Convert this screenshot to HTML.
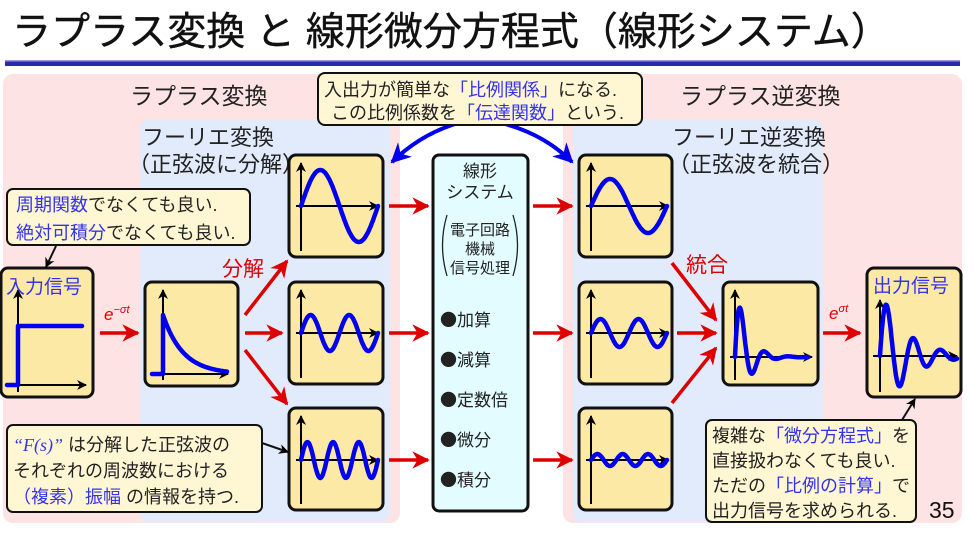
<!DOCTYPE html>
<html><head><meta charset="utf-8"><style>
html,body{margin:0;padding:0;background:#fff;}
svg{display:block;}
text{font-family:"Liberation Sans","Noto Sans CJK JP",sans-serif;}
.cj{font-family:"Noto Sans CJK JP",sans-serif;}
</style></head><body>
<svg id="s" width="976" height="536" viewBox="0 0 976 536" xmlns="http://www.w3.org/2000/svg">
<defs>
<marker id="ar" viewBox="0 0 10 10" refX="9" refY="5" markerWidth="5" markerHeight="5" orient="auto"><path d="M0,0 L10,5 L0,10 L3,5z" fill="#dd0000"/></marker>
<marker id="ab" viewBox="0 0 10 10" refX="9" refY="5" markerWidth="5" markerHeight="5" orient="auto"><path d="M0,0 L10,5 L0,10 L3,5z" fill="#0000ee"/></marker>
<marker id="ak" viewBox="0 0 10 10" refX="9" refY="5" markerWidth="5" markerHeight="5" orient="auto"><path d="M0,0 L10,5 L0,10 L3,5z" fill="#000"/></marker>
</defs>
<text x="12" y="45" font-size="39" fill="#111" stroke="#111" stroke-width="0.4">ラプラス変換 と 線形微分方程式（線形システム）</text>
<rect x="5" y="61" width="955" height="5" fill="#2a2aa8"/>
<rect x="5" y="60" width="955" height="1.5" fill="#9a9ae0"/>
<rect x="3" y="74" width="397" height="449" rx="10" fill="#fde3e3"/>
<rect x="563" y="74" width="399" height="449" rx="10" fill="#fde3e3"/>
<rect x="140" y="120" width="250" height="402" rx="8" fill="#e2ebfc"/>
<rect x="573" y="120" width="250" height="402" rx="8" fill="#e2ebfc"/>
<text x="130" y="104" font-size="23" fill="#222">ラプラス変換</text>
<text x="680" y="104" font-size="23" fill="#222">ラプラス逆変換</text>
<text x="142" y="145" font-size="22" fill="#222">フーリエ変換</text>
<text x="128" y="172" font-size="22" fill="#222">（正弦波に分解）</text>
<text x="672" y="145" font-size="22" fill="#222">フーリエ逆変換</text>
<text x="668" y="172" font-size="22" fill="#222">（正弦波を統合）</text>
<g fill="#fde9a6" stroke="#111" stroke-width="3">
<rect x="1" y="268" width="92" height="129" rx="7"/>
<rect x="145" y="282" width="93" height="104" rx="7"/>
<rect x="289" y="155" width="94" height="102" rx="7"/>
<rect x="289" y="282" width="94" height="102" rx="7"/>
<rect x="289" y="408" width="94" height="102" rx="7"/>
<rect x="579" y="155" width="93" height="102" rx="7"/>
<rect x="579" y="282" width="93" height="102" rx="7"/>
<rect x="579" y="408" width="93" height="102" rx="7"/>
<rect x="723" y="282" width="95" height="103" rx="7"/>
<rect x="867" y="268" width="94" height="129" rx="7"/>
</g>
<rect x="433" y="155" width="95" height="356" rx="6" fill="#e2fcff" stroke="#111" stroke-width="3"/>
<g font-size="17" fill="#222" text-anchor="middle">
<text x="480" y="177">線形</text>
<text x="480" y="198">システム</text>
<text x="480" y="235" font-size="15">電子回路</text>
<text x="480" y="254" font-size="15">機械</text>
<text x="480" y="273" font-size="15">信号処理</text>
</g>
<path d="M447,215 Q438,245 447,276 M513,215 Q522,245 513,276" fill="none" stroke="#222" stroke-width="1.3"/>
<g font-size="17" fill="#222">
<text x="440" y="326"><tspan class="cj">●</tspan>加算</text>
<text x="440" y="366"><tspan class="cj">●</tspan>減算</text>
<text x="440" y="406"><tspan class="cj">●</tspan>定数倍</text>
<text x="440" y="446"><tspan class="cj">●</tspan>微分</text>
<text x="440" y="486"><tspan class="cj">●</tspan>積分</text>
</g>
<g id="ax" stroke="#000" stroke-width="2" marker-end="url(#ak)" fill="none"></g>
<g id="wv" stroke="#0000ee" stroke-width="4.5" fill="none" stroke-linecap="round" stroke-linejoin="round"></g>
<g stroke="#dd0000" stroke-width="3.5" marker-end="url(#ar)">
<line x1="100" y1="333" x2="138" y2="333"/>
<line x1="245" y1="333" x2="282" y2="333"/>
<line x1="245" y1="315" x2="287" y2="261"/>
<line x1="245" y1="350" x2="287" y2="404"/>
<line x1="389" y1="206" x2="428" y2="206"/>
<line x1="389" y1="333" x2="428" y2="333"/>
<line x1="389" y1="460" x2="428" y2="460"/>
<line x1="533" y1="206" x2="572" y2="206"/>
<line x1="533" y1="333" x2="572" y2="333"/>
<line x1="533" y1="460" x2="572" y2="460"/>
<line x1="672" y1="263" x2="716" y2="320"/>
<line x1="677" y1="333" x2="716" y2="333"/>
<line x1="672" y1="403" x2="716" y2="348"/>
<line x1="823" y1="333" x2="860" y2="333"/>
</g>
<text x="104" y="320" font-size="17" fill="#dd0000" font-style="italic" font-family="Liberation Serif,serif">e<tspan font-size="11" dy="-7">−σt</tspan></text>
<text x="829" y="319" font-size="17" fill="#dd0000" font-style="italic" font-family="Liberation Serif,serif">e<tspan font-size="11" dy="-7">σt</tspan></text>
<text x="222" y="276" font-size="21" fill="#dd0000">分解</text>
<text x="686" y="272" font-size="21" fill="#dd0000">統合</text>
<text x="6" y="293" font-size="19" fill="#3333ee">入力信号</text>
<text x="873" y="292" font-size="19" fill="#3333ee">出力信号</text>
<path d="M455,124 Q420,135 392,162" fill="none" stroke="#0000ee" stroke-width="4" marker-end="url(#ab)"/>
<path d="M505,124 Q545,135 572,162" fill="none" stroke="#0000ee" stroke-width="4" marker-end="url(#ab)"/>
<g fill="#fff6d4" stroke="#111" stroke-width="2">
<rect x="318" y="73" width="324" height="52" rx="7"/>
<rect x="7" y="189" width="243" height="56" rx="6"/>
<rect x="7" y="425" width="255" height="87" rx="6"/>
<rect x="706" y="420" width="210" height="102" rx="6"/>
</g>
<g stroke="#111" stroke-width="2" marker-end="url(#ak)">
<line x1="56" y1="246" x2="46" y2="267"/>
<line x1="262" y1="443" x2="288" y2="452"/>
<line x1="902" y1="420" x2="915" y2="399"/>
</g>
<g font-size="18" fill="#222">
<text x="324" y="96">入出力が簡単な<tspan fill="#3333ee">「比例関係」</tspan>になる.</text>
<text x="331" y="119">この比例係数を<tspan fill="#3333ee">「伝達関数」</tspan>という.</text>
<text x="16" y="211"><tspan fill="#3333ee">周期関数</tspan>でなくても良い.</text>
<text x="16" y="239"><tspan fill="#3333ee">絶対可積分</tspan>でなくても良い.</text>
<text x="13" y="451"><tspan fill="#3333ee" font-style="italic" font-family="Liberation Serif,serif">“F(s)”</tspan> は分解した正弦波の</text>
<text x="13" y="477">それぞれの周波数における</text>
<text x="13" y="503"><tspan fill="#3333ee">（複素）振幅</tspan> の情報を持つ.</text>
<text x="712" y="442">複雑な<tspan fill="#3333ee">「微分方程式」</tspan>を</text>
<text x="712" y="467">直接扱わなくても良い.</text>
<text x="712" y="492">ただの<tspan fill="#3333ee">「比例の計算」</tspan>で</text>
<text x="712" y="517">出力信号を求められる.</text>
</g>
<text x="929" y="518" font-size="23" fill="#111">35</text>
<script>
var ax=document.getElementById('ax'),wv=document.getElementById('wv'),NS='http://www.w3.org/2000/svg';
function L(x1,y1,x2,y2){var l=document.createElementNS(NS,'line');l.setAttribute('x1',x1);l.setAttribute('y1',y1);l.setAttribute('x2',x2);l.setAttribute('y2',y2);ax.appendChild(l);}
function P(d){var p=document.createElementNS(NS,'path');p.setAttribute('d',d);wv.appendChild(p);}
function axes(ox,oy,top,bot,left,right){L(ox,bot,ox,top);L(left,oy,right,oy);}
function sine(ox,oy,w,A,n){var d='';for(var i=0;i<=80;i++){var t=i/80*w;d+=(i?'L':'M')+(ox+t).toFixed(1)+','+(oy-A*Math.sin(2*Math.PI*n*t/w)).toFixed(1);}P(d);}
function damp(ox,oy,w,A,k,per){var d='';for(var i=0;i<=120;i++){var t=i/120*w;d+=(i?'L':'M')+(ox+t).toFixed(1)+','+(oy-A*Math.exp(-k*t)*Math.sin(2*Math.PI*t/per)).toFixed(1);}P(d);}
[[155,206,36,1],[282,333,18,2],[408,460,18,3]].forEach(function(r){axes(301,r[1],r[0]+8,r[0]+96,296,378);sine(301,r[1],77,r[2],r[3]);});
[[155,206,27,1],[282,333,14,2],[408,460,6,3]].forEach(function(r){axes(591,r[1],r[0]+8,r[0]+96,586,668);sine(591,r[1],76,r[2],r[3]);});
axes(18,385,290,392,7,86);P('M7,385 L18,385 L18,326 L82,326');
axes(163,374,290,380,152,228);var d='M152,374 L163,374 L163,315';for(var i=1;i<=40;i++){var t=i/40*64;d+='L'+(163+t).toFixed(1)+','+(374-59*Math.exp(-t/20)).toFixed(1);}P(d);
axes(735,357,290,380,730,812);damp(735,357,73,80,0.09,24);
axes(880,356,300,392,873,957);damp(880,356,77,66,0.039,27);
</script>
</svg>
</body></html>
